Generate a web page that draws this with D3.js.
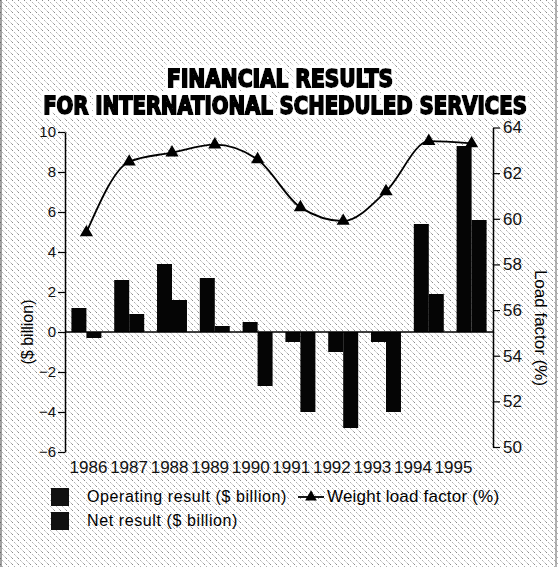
<!DOCTYPE html>
<html>
<head>
<meta charset="utf-8">
<script src="https://cdn.jsdelivr.net/npm/d3@7"></script>
<style>
  body { margin: 0; background: #fff; }
  svg { display: block; }
  .tick text { font-family: "Liberation Sans", Arial, sans-serif; fill: #111; }
</style>
</head>
<body>
<div id="chart"></div>
<script>
// data
const years = ["1986", "1987", "1988", "1989", "1990", "1991", "1992", "1993", "1994", "1995"];
const operatingResult = [1.2, 2.6, 3.4, 2.7, 0.5, -0.5, -1.0, -0.5, 5.4, 9.3];
const netResult = [-0.3, 0.9, 1.6, 0.3, -2.7, -4.0, -4.8, -4.0, 1.9, 5.6];
const loadFactor = [59.4, 62.5, 62.9, 63.25, 62.6, 60.5, 59.9, 61.2, 63.4, 63.3];
const leftTicks = [-6, -4, -2, 0, 2, 4, 6, 8, 10];
const rightTicks = [50, 52, 54, 56, 58, 60, 62, 64];

const W = 558, H = 567;
const plot = { left: 65, right: 493 };

const svg = d3.select("#chart").append("svg")
    .attr("width", W)
    .attr("height", H);

// scanned halftone texture
const defs = svg.append("defs");
const pat = defs.append("pattern")
    .attr("id", "hatch")
    .attr("width", 6).attr("height", 6)
    .attr("patternUnits", "userSpaceOnUse");
pat.append("path")
    .attr("d", "M0,0 L6,6")
    .attr("stroke", "#666")
    .attr("stroke-width", 0.9)
    .attr("stroke-dasharray", "1.5,1.8");

// white halo round the title letters
const halo = defs.append("filter").attr("id", "halo")
    .attr("x", "-5%").attr("y", "-30%").attr("width", "110%").attr("height", "160%");
halo.append("feMorphology").attr("in", "SourceAlpha").attr("operator", "dilate").attr("radius", 3).attr("result", "fat");
halo.append("feFlood").attr("flood-color", "#fff").attr("result", "white");
halo.append("feComposite").attr("in", "white").attr("in2", "fat").attr("operator", "in").attr("result", "ring");
const merge = halo.append("feMerge");
merge.append("feMergeNode").attr("in", "ring");
merge.append("feMergeNode").attr("in", "SourceGraphic");

svg.append("rect").attr("width", W).attr("height", H).attr("fill", "#fff");
svg.append("rect").attr("width", W).attr("height", H).attr("fill", "url(#hatch)").attr("opacity", 0.85);
svg.append("line").attr("x1", 1).attr("x2", 1).attr("y1", 0).attr("y2", H).attr("stroke", "#444");
svg.append("line").attr("x1", W - 2).attr("x2", W - 2).attr("y1", 0).attr("y2", H).attr("stroke", "#666");

// title, squeezed sideways to the width of the original lettering
const titleLines = [
    { t: "FINANCIAL RESULTS", x: 280, y: 87, len: 226 },
    { t: "FOR INTERNATIONAL SCHEDULED SERVICES", x: 285, y: 113.5, len: 484 }
];
const title = svg.append("g")
    .style("font-family", "'Liberation Sans Narrow', 'DejaVu Sans Condensed', sans-serif")
    .style("font-weight", "bold")
    .style("font-size", "23px")
    .attr("filter", "url(#halo)");
titleLines.forEach(l => {
    const t = title.append("text")
        .attr("text-anchor", "middle")
        .attr("fill", "#000").attr("stroke", "#000").attr("stroke-width", 1.9)
        .text(l.t);
    const w = t.node().getComputedTextLength();
    const s = l.len / w;
    t.attr("transform", `translate(${l.x},${l.y}) scale(${s},1.04)`);
});

// scales
const x = d3.scaleBand()
    .domain(years)
    .range([plot.left, plot.right])
    .paddingInner(0.3)
    .paddingOuter(0.15);
const xSub = d3.scaleBand()
    .domain(["op", "net"])
    .range([0, x.bandwidth()]);
const xLabel = d3.scalePoint().domain(years).range([88, 453]);
const yL = d3.scaleLinear().domain([-6, 10]).range([452, 132]);
const yR = d3.scaleLinear().domain([50, 64]).range([447, 127.5]);

// bars
const barData = years.map((yr, i) => ({ year: yr, op: operatingResult[i], net: netResult[i] }));
const groups = svg.append("g").selectAll("g")
    .data(barData)
    .join("g")
    .attr("transform", d => `translate(${x(d.year)},0)`);
groups.selectAll("rect")
    .data(d => ["op", "net"].map(k => ({ key: k, value: d[k] })))
    .join("rect")
    .attr("x", d => xSub(d.key))
    .attr("width", xSub.bandwidth())
    .attr("y", d => yL(Math.max(0, d.value)))
    .attr("height", d => Math.abs(yL(d.value) - yL(0)))
    .attr("fill", "#050505");

// zero line
svg.append("line")
    .attr("x1", plot.left).attr("x2", plot.right)
    .attr("y1", yL(0)).attr("y2", yL(0))
    .attr("stroke", "#000").attr("stroke-width", 1.5);

// axes
const leftAxis = svg.append("g")
    .attr("transform", `translate(${plot.left},0)`)
    .call(d3.axisLeft(yL).tickValues(leftTicks).tickSize(7).tickSizeOuter(0).tickPadding(2));
leftAxis.selectAll("text").style("font-size", "15px");

const rightAxis = svg.append("g")
    .attr("transform", `translate(${plot.right},0)`)
    .call(d3.axisRight(yR).tickValues(rightTicks).tickSize(7).tickSizeOuter(0).tickPadding(3));
rightAxis.selectAll("text").style("font-size", "17px");

[leftAxis, rightAxis].forEach(a => {
    a.select(".domain").attr("stroke", "#000").attr("stroke-width", 1.5);
    a.selectAll(".tick line").attr("stroke", "#000").attr("stroke-width", 1.2);
});

const bottomAxis = svg.append("g")
    .attr("transform", `translate(0,457)`)
    .call(d3.axisBottom(xLabel).tickSize(0).tickPadding(4));
bottomAxis.select(".domain").remove();
bottomAxis.selectAll("text")
    .style("font-family", "'Liberation Sans Narrow', sans-serif")
    .style("font-size", "17px");

// axis titles
svg.append("text")
    .attr("transform", `translate(33,332) rotate(-90)`)
    .attr("text-anchor", "middle")
    .style("font-family", "'Liberation Sans', Arial, sans-serif")
    .style("font-size", "16px")
    .text("($ billion)");
svg.append("text")
    .attr("transform", `translate(535,328) rotate(90)`)
    .attr("text-anchor", "middle")
    .style("font-family", "'Liberation Sans', Arial, sans-serif")
    .style("font-size", "17px")
    .text("Load factor (%)");

// load factor line
const cx = yr => x(yr) + x.bandwidth() / 2;
const lineData = years.map((yr, i) => ({ year: yr, value: loadFactor[i] }));
svg.append("path")
    .datum(lineData)
    .attr("fill", "none")
    .attr("stroke", "#000")
    .attr("stroke-width", 1.8)
    .attr("d", d3.line().x(d => cx(d.year)).y(d => yR(d.value)).curve(d3.curveMonotoneX));
svg.append("g").selectAll("path")
    .data(lineData)
    .join("path")
    .attr("transform", d => `translate(${cx(d.year)},${yR(d.value)})`)
    .attr("d", d3.symbol(d3.symbolTriangle, 75))
    .attr("fill", "#000");

// legend
const legend = svg.append("g")
    .style("font-family", "'Liberation Sans', Arial, sans-serif")
    .style("font-size", "16px")
    .style("letter-spacing", "0.6px");
const legendItems = [
    { label: "Operating result ($ billion)", x: 51, y: 488 },
    { label: "Net result ($ billion)", x: 51, y: 512 }
];
legendItems.forEach(it => {
    legend.append("rect").attr("x", it.x).attr("y", it.y).attr("width", 18).attr("height", 18).attr("fill", "#111");
    legend.append("text").attr("x", it.x + 36).attr("y", it.y + 14).text(it.label);
});
legend.append("line")
    .attr("x1", 298).attr("x2", 324).attr("y1", 497).attr("y2", 497)
    .attr("stroke", "#000").attr("stroke-width", 1.8);
legend.append("path")
    .attr("transform", "translate(311,497)")
    .attr("d", d3.symbol(d3.symbolTriangle, 60))
    .attr("fill", "#000");
legend.append("text").attr("x", 327).attr("y", 502)
    .style("font-size", "17px")
    .style("letter-spacing", "0.2px")
    .text("Weight load factor (%)");
</script>
</body>
</html>
